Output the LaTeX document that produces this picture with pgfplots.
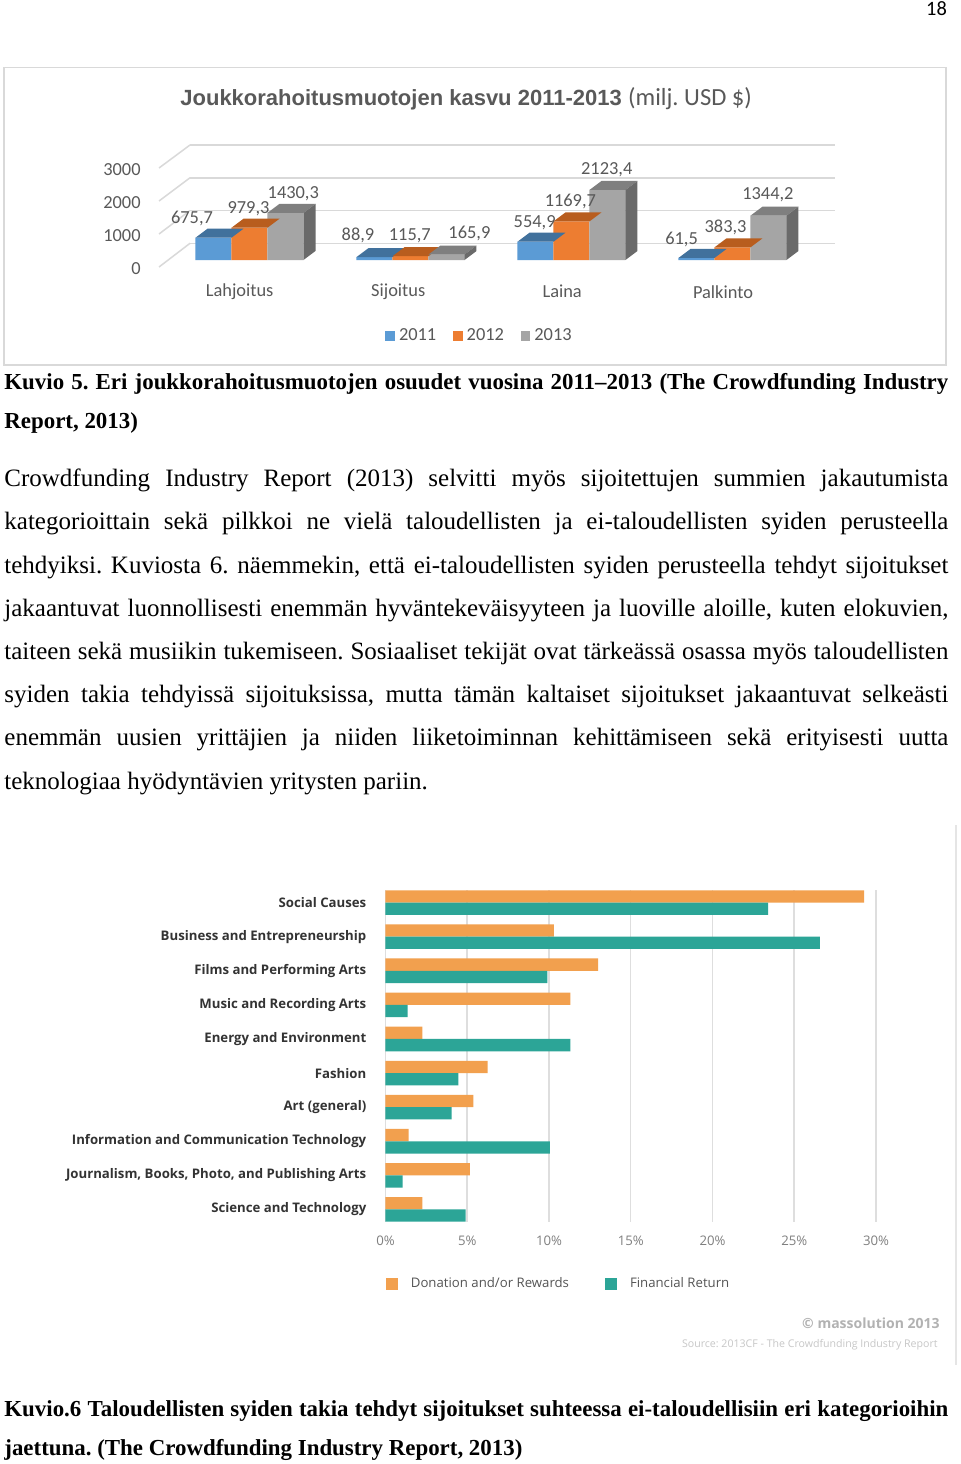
\documentclass[border=0pt]{standalone}
\usepackage{fontspec}
\setmainfont{Liberation Serif}
\newfontfamily\carlito{Carlito}
\newfontfamily\arialf{Liberation Sans}
\newfontfamily\opensans{Open Sans}
\usepackage{pgfplots}
\usepackage{pgfplotstable}
\pgfplotsset{compat=1.18}
\frenchspacing

\definecolor{cBlue}{HTML}{5B9BD5}
\definecolor{cBlueT}{HTML}{41719C}
\definecolor{cOr}{HTML}{ED7D31}
\definecolor{cOrT}{HTML}{B85D1E}
\definecolor{cGr}{HTML}{A5A5A5}
\definecolor{cGrT}{HTML}{7F7F7F}
\definecolor{cGrS}{HTML}{6A6A6A}
\definecolor{gridA}{HTML}{D9D9D9}
\definecolor{txtA}{HTML}{595959}
\definecolor{orB}{HTML}{F2A04E}
\definecolor{tlB}{HTML}{2CA597}
\definecolor{gridB}{HTML}{DEDEDE}
\definecolor{labB}{HTML}{333333}
\definecolor{tickB}{HTML}{7F7F7F}
\definecolor{legB}{HTML}{555555}

\tikzset{lbl/.style={font=\carlito\fontsize{9.2}{11}\selectfont, text=txtA, inner sep=0pt}}

% 3D faces of the column chart, drawn as marks at each data point
\newcommand\topface[1]{%
  \pgfpathmoveto{\pgfpoint{#1pt}{0pt}}%
  \pgfpathlineto{\pgfpoint{#1pt+18pt}{0pt}}%
  \pgfpathlineto{\pgfpoint{#1pt+24pt}{4.5pt}}%
  \pgfpathlineto{\pgfpoint{#1pt+6pt}{4.5pt}}%
  \pgfpathclose\pgfusepathqfill}
\pgfdeclareplotmark{topA}{\topface{-27}}
\pgfdeclareplotmark{topB}{\topface{-9}}
\pgfdeclareplotmark{topC}{\topface{9}}
\pgfdeclareplotmark{sideC}{%
  \pgfmathsetmacro\hh{\rawy*0.0165}%
  \pgfpathmoveto{\pgfpoint{27pt}{0pt}}%
  \pgfpathlineto{\pgfpoint{33pt}{4.5pt}}%
  \pgfpathlineto{\pgfpoint{33pt}{4.5pt-\hh pt}}%
  \pgfpathlineto{\pgfpoint{27pt}{-\hh pt}}%
  \pgfpathclose\pgfusepathqfill}

\pgfplotstableread{
x a b c
0 675.7 979.3 1430.3
1 88.9 115.7 165.9
2 554.9 1169.7 2123.4
3 61.5 383.3 1344.2
}\tabA

\pgfplotstableread{
k don fin
9 29.27 23.41
8 10.3 26.57
7 13.0 9.9
6 11.3 1.35
5 2.25 11.3
4 6.25 4.45
3 5.38 4.05
2 1.42 10.05
1 5.16 1.05
0 2.25 4.9
}\tabB

\begin{document}
\begin{tikzpicture}
\path[use as bounding box] (0pt,0pt) rectangle (480pt,-732pt);
\fill[white] (0pt,0pt) rectangle (480pt,-732pt);

\begin{scope}[x=0.5pt,y=-0.5pt]
  \node[anchor=base east, inner sep=0pt, font=\carlito\fontsize{10.2}{12}\selectfont] at (947.3,15.7) {18};
  \draw[gridA, line width=0.75pt] (4,67.3) rectangle (946,365);
  \node[anchor=base west, inner sep=0pt, text=txtA] at (180,105)
    {{\arialf\bfseries\fontsize{11}{13}\selectfont Joukkorahoitusmuotojen kasvu 2011-2013}\hspace{3.2pt}{\carlito\fontsize{12.3}{14}\selectfont(milj. USD \$)}};

  % caption 1 and 2
  \begin{scope}[every node/.style={anchor=base west, inner sep=0pt, font=\bfseries\fontsize{11.45}{14}\selectfont}]
    \node at (4,389.3) {\makebox[472pt][s]{Kuvio 5. Eri joukkorahoitusmuotojen osuudet vuosina 2011–2013 (The Crowdfunding Industry}};
    \node at (4,428.3) {Report, 2013)};
    \node at (4,1416.7) {\makebox[472pt][s]{Kuvio.6 Taloudellisten syiden takia tehdyt sijoitukset suhteessa ei-taloudellisiin eri kategorioihin}};
    \node at (4,1455) {jaettuna. (The Crowdfunding Industry Report, 2013)};
  \end{scope}

  % body text
  \begin{scope}[every node/.style={anchor=base west, inner sep=0pt, font=\fontsize{12.5}{15}\selectfont}]
    \node at (4,486.6) {\makebox[472pt][s]{Crowdfunding Industry Report (2013) selvitti myös sijoitettujen summien jakautumista}};
    \node at (4,529.8) {\makebox[472pt][s]{kategorioittain sekä pilkkoi ne vielä taloudellisten ja ei-taloudellisten syiden perusteella}};
    \node at (4,573.0) {\makebox[472pt][s]{tehdyiksi. Kuviosta 6. näemmekin, että ei-taloudellisten syiden perusteella tehdyt sijoitukset}};
    \node at (4,616.2) {\makebox[472pt][s]{jakaantuvat luonnollisesti enemmän hyväntekeväisyyteen ja luoville aloille, kuten elokuvien,}};
    \node at (4,659.4) {\makebox[472pt][s]{taiteen sekä musiikin tukemiseen. Sosiaaliset tekijät ovat tärkeässä osassa myös taloudellisten}};
    \node at (4,702.6) {\makebox[472pt][s]{syiden takia tehdyissä sijoituksissa, mutta tämän kaltaiset sijoitukset jakaantuvat selkeästi}};
    \node at (4,745.8) {\makebox[472pt][s]{enemmän uusien yrittäjien ja niiden liiketoiminnan kehittämiseen sekä erityisesti uutta}};
    \node at (4,789.0) {teknologiaa hyödyntävien yritysten pariin.};
  \end{scope}

  % second chart frame and credits
  \draw[color=gridB!80, line width=0.6pt] (956,825) -- (956,1365);
  \node[anchor=east, inner sep=0pt, text=black!30, font=\opensans\bfseries\fontsize{7}{8}\selectfont] at (940,1323) {© massolution 2013};
  \node[anchor=east, inner sep=0pt, text=black!22, font=\opensans\fontsize{5.3}{6.4}\selectfont] at (938,1345) {Source: 2013CF - The Crowdfunding Industry Report};
\end{scope}

% ---------------- chart 1: 3D clustered columns ----------------
\begin{axis}[
  at={(64.375pt,-139.9pt)}, anchor=south west,
  scale only axis, width=362.25pt, height=69.3pt,
  xmin=-0.75, xmax=3.75, ymin=-600, ymax=3600,
  hide axis, clip=false,
  legend style={at={(0.4842,-0.4055)}, anchor=center, draw=none, fill=none,
    inner sep=0pt, legend columns=-1, font=\carlito\fontsize{9.2}{11}\selectfont,
    text=txtA, nodes={inner sep=1pt},
    /tikz/every even column/.append style={column sep=7.4pt}},
]
% back wall grid lines and floor diagonals
\addplot[gridA, line width=0.75pt, forget plot] coordinates {(-0.3696,506) (3.636,506)};
\addplot[gridA, line width=0.75pt, forget plot] coordinates {(-0.3696,1499) (3.636,1499)};
\addplot[gridA, line width=0.75pt, forget plot] coordinates {(-0.3696,2492) (3.636,2492)};
\addplot[gridA, line width=0.75pt, forget plot] coordinates {(-0.3696,3485) (3.636,3485)};
\addplot[gridA, line width=0.75pt, forget plot] coordinates {(-0.562,-212) (-0.3696,506)};
\addplot[gridA, line width=0.75pt, forget plot] coordinates {(-0.562,788) (-0.3696,1499)};
\addplot[gridA, line width=0.75pt, forget plot] coordinates {(-0.562,1788) (-0.3696,2492)};
\addplot[gridA, line width=0.75pt, forget plot] coordinates {(-0.562,2788) (-0.3696,3485)};

% 2011
\addplot[only marks, mark=topA, color=cBlueT, forget plot] table[x=x,y=a]{\tabA};
\addplot[ybar, bar width=18pt, bar shift=-18pt, fill=cBlue, draw=none,
  legend image code/.code={\fill[cBlue] (0pt,-2.4pt) rectangle (4.8pt,2.4pt);}]
  table[x=x,y=a]{\tabA};
\addlegendentry{\hspace{1pt}2011}
% 2012
\addplot[only marks, mark=topB, color=cOrT, forget plot] table[x=x,y=b]{\tabA};
\addplot[ybar, bar width=18pt, bar shift=0pt, fill=cOr, draw=none,
  legend image code/.code={\fill[cOr] (0pt,-2.4pt) rectangle (4.8pt,2.4pt);}]
  table[x=x,y=b]{\tabA};
\addlegendentry{\hspace{1pt}2012}
% 2013
\addplot[only marks, mark=topC, color=cGrT, forget plot] table[x=x,y=c]{\tabA};
\addplot[only marks, mark=sideC, color=cGrS, forget plot,
  visualization depends on={\thisrow{c}\as\rawy}] table[x=x,y=c]{\tabA};
\addplot[ybar, bar width=18pt, bar shift=18pt, fill=cGr, draw=none,
  legend image code/.code={\fill[cGr] (0pt,-2.4pt) rectangle (4.8pt,2.4pt);}]
  table[x=x,y=c]{\tabA};
\addlegendentry{\hspace{1pt}2013}

% axis numbers
\node[lbl, anchor=east] at (axis cs:-0.674,-272) {0};
\node[lbl, anchor=east] at (axis cs:-0.674,728) {1000};
\node[lbl, anchor=east] at (axis cs:-0.674,1728) {2000};
\node[lbl, anchor=east] at (axis cs:-0.674,2728) {3000};
% categories
\node[lbl] at (axis cs:-0.061,-960) {Lahjoitus};
\node[lbl] at (axis cs:0.924,-960) {Sijoitus};
\node[lbl] at (axis cs:1.942,-960) {Laina};
\node[lbl] at (axis cs:2.941,-960) {Palkinto};
% data labels
\node[lbl] at (axis cs:-0.357,1264) {675,7};
\node[lbl] at (axis cs:-0.006,1567) {979,3};
\node[lbl] at (axis cs:0.272,2021) {1430,3};
\node[lbl] at (axis cs:0.674,758) {88,9};
\node[lbl] at (axis cs:0.996,727) {115,7};
\node[lbl] at (axis cs:1.366,809) {165,9};
\node[lbl] at (axis cs:1.771,1142) {554,9};
\node[lbl] at (axis cs:1.993,1767) {1169,7};
\node[lbl] at (axis cs:2.219,2748) {2123,4};
\node[lbl] at (axis cs:2.684,636) {61,5};
\node[lbl] at (axis cs:2.957,979) {383,3};
\node[lbl] at (axis cs:3.220,1970) {1344,2};
\end{axis}

% ---------------- chart 2: horizontal bars ----------------
\begin{axis}[
  at={(192.75pt,-610.85pt)}, anchor=south west,
  scale only axis, width=245.25pt, height=165.7pt,
  xmin=0, xmax=30, ymin=-0.36, ymax=9.36, clip=false,
  axis line style={draw=none}, tick style={draw=none},
  xmajorgrids, grid style={gridB, line width=0.75pt},
  xtick={0,5,10,15,20,25,30},
  xticklabels={0\%,5\%,10\%,15\%,20\%,25\%,30\%},
  xticklabel style={font=\opensans\fontsize{6.6}{8}\selectfont, text=tickB, anchor=center, inner sep=0pt, yshift=-9.5pt},
  ytick={0,1,2,3,4,5,6,7,8,9},
  yticklabels={Science and Technology, {Journalism, Books, Photo, and Publishing Arts}, Information and Communication Technology, Art (general), Fashion, Energy and Environment, Music and Recording Arts, Films and Performing Arts, Business and Entrepreneurship, Social Causes},
  yticklabel style={font=\opensans\bfseries\fontsize{6.6}{8}\selectfont, text=labB, inner sep=0pt, xshift=-9.4pt},
  legend style={at={(0,-0.188)}, anchor=west, draw=none, fill=none,
    inner sep=0pt, legend columns=-1, font=\opensans\fontsize{6.6}{8}\selectfont,
    text=legB, nodes={inner sep=1pt},
    /tikz/every even column/.append style={column sep=17pt}},
]
\addplot[xbar, bar width=6.15pt, bar shift=3.075pt, fill=orB, draw=none,
  legend image code/.code={\fill[orB] (0pt,-3pt) rectangle (6pt,3pt);}]
  table[x=don,y=k]{\tabB};
\addlegendentry{\hspace{5.5pt}Donation and/or Rewards}
\addplot[xbar, bar width=6.15pt, bar shift=-3.075pt, fill=tlB, draw=none,
  legend image code/.code={\fill[tlB] (0pt,-3pt) rectangle (6pt,3pt);}]
  table[x=fin,y=k]{\tabB};
\addlegendentry{\hspace{5.5pt}Financial Return}
\end{axis}
\end{tikzpicture}
\end{document}
